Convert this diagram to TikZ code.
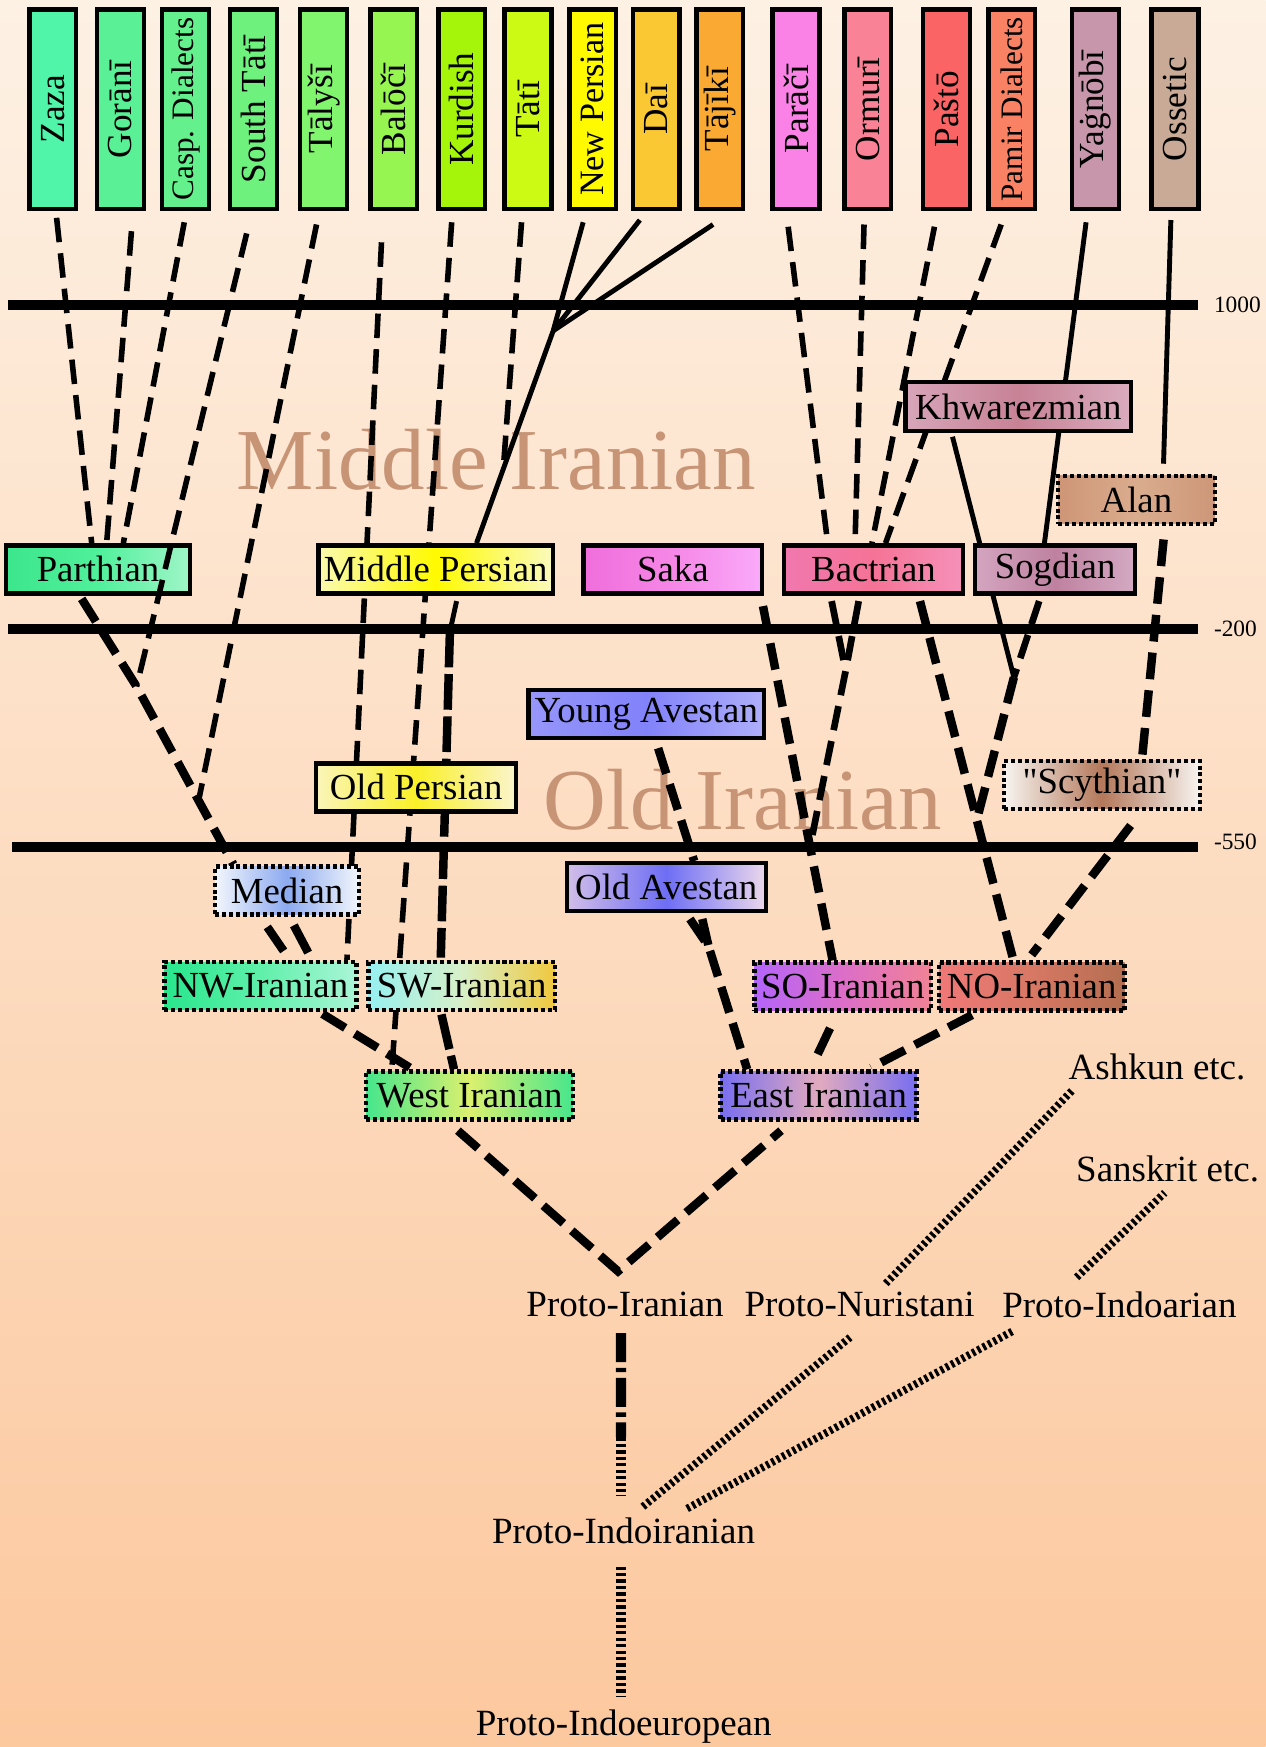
\documentclass[tikz,border=0pt]{standalone}
\usepackage{fontspec}
\setmainfont{Liberation Serif}
\usepackage{graphicx}
\usetikzlibrary{calc}
\pgfdeclarelayer{bg}
\pgfdeclarelayer{lines}
\pgfdeclarelayer{front}
\pgfsetlayers{bg,lines,main,front}
\newcommand\straightquote{\XeTeXglyph\numexpr\XeTeXcharglyph"22\relax\relax}

\definecolor{bgtop}{RGB}{253,241,228}
\definecolor{bgbot}{RGB}{252,200,158}
\definecolor{bigc}{RGB}{200,148,118}
% top boxes
\definecolor{cZaza}{RGB}{80,245,170}
\definecolor{cGor}{RGB}{90,240,150}
\definecolor{cCasp}{RGB}{100,240,140}
\definecolor{cSTati}{RGB}{110,242,125}
\definecolor{cTaly}{RGB}{130,245,110}
\definecolor{cBalo}{RGB}{150,245,80}
\definecolor{cKurd}{RGB}{165,245,10}
\definecolor{cTati}{RGB}{205,250,20}
\definecolor{cNPer}{RGB}{255,250,0}
\definecolor{cDari}{RGB}{250,200,50}
\definecolor{cTaji}{RGB}{250,170,50}
\definecolor{cPara}{RGB}{250,130,230}
\definecolor{cOrmu}{RGB}{250,130,150}
\definecolor{cPast}{RGB}{250,100,100}
\definecolor{cPami}{RGB}{250,130,100}
\definecolor{cYagn}{RGB}{200,150,170}
\definecolor{cOsse}{RGB}{200,170,150}
% middle boxes
\definecolor{paL}{RGB}{60,230,140}\definecolor{paM}{RGB}{80,240,155}\definecolor{paR}{RGB}{160,245,200}
\definecolor{mpL}{RGB}{250,250,175}\definecolor{mpM}{RGB}{255,250,0}\definecolor{mpR}{RGB}{250,250,190}
\definecolor{skL}{RGB}{240,110,220}\definecolor{skM}{RGB}{245,135,230}\definecolor{skR}{RGB}{250,170,250}
\definecolor{baL}{RGB}{240,120,175}\definecolor{baM}{RGB}{245,115,150}\definecolor{baR}{RGB}{245,145,185}
\definecolor{soL}{RGB}{212,165,192}\definecolor{soM}{RGB}{190,130,160}\definecolor{soR}{RGB}{212,170,195}
\definecolor{khL}{RGB}{215,165,185}\definecolor{khM}{RGB}{200,130,150}\definecolor{khR}{RGB}{218,172,190}
\definecolor{alL}{RGB}{205,150,118}\definecolor{alM}{RGB}{218,172,142}\definecolor{alR}{RGB}{205,150,120}
\definecolor{yaL}{RGB}{150,150,250}\definecolor{yaM}{RGB}{130,130,250}\definecolor{yaR}{RGB}{175,175,250}
\definecolor{opL}{RGB}{250,245,185}\definecolor{opM}{RGB}{250,240,40}\definecolor{opR}{RGB}{250,245,205}
\definecolor{scL}{RGB}{248,244,240}\definecolor{scM}{RGB}{180,120,90}\definecolor{scR}{RGB}{248,244,240}
\definecolor{meL}{RGB}{242,246,252}\definecolor{meM}{RGB}{140,170,240}\definecolor{meR}{RGB}{242,246,252}
\definecolor{oaL}{RGB}{210,190,232}\definecolor{oaM}{RGB}{110,110,245}\definecolor{oaR}{RGB}{235,215,235}
\definecolor{nwL}{RGB}{40,230,140}\definecolor{nwM}{RGB}{95,240,170}\definecolor{nwR}{RGB}{170,245,215}
\definecolor{swL}{RGB}{150,240,240}\definecolor{swM}{RGB}{215,240,200}\definecolor{swR}{RGB}{240,200,60}
\definecolor{sxL}{RGB}{180,100,250}\definecolor{sxM}{RGB}{220,110,200}\definecolor{sxR}{RGB}{240,130,150}
\definecolor{nxL}{RGB}{240,120,120}\definecolor{nxM}{RGB}{215,120,100}\definecolor{nxR}{RGB}{180,110,80}
\definecolor{wiL}{RGB}{70,230,140}\definecolor{wiM}{RGB}{220,240,110}\definecolor{wiR}{RGB}{70,230,140}
\definecolor{eiL}{RGB}{120,110,240}\definecolor{eiM}{RGB}{225,170,190}\definecolor{eiR}{RGB}{120,110,240}

\begin{document}
\begin{tikzpicture}[x=0.5pt,y=-0.5pt,
  topbox/.style={draw, line width=2pt, minimum width=21pt, minimum height=89.5pt,
    inner sep=0pt, fill=#1, font=\fontsize{15.8}{17}\selectfont},
  mbox/.style={draw, line width=2pt, minimum height=21.5pt, inner sep=0pt,
    font=\fontsize{16.5}{18}\selectfont},
  dbox/.style={mbox, dash pattern=on 1.8pt off 1.3pt},
  shd/.style n args={3}{left color=#1, right color=#3, middle color=#2},
  ptxt/.style={inner sep=0pt, font=\fontsize{16.6}{18}\selectfont},
  bigtxt/.style={inner sep=0pt, text=bigc, font=\fontsize{39}{40}\selectfont},
  tline/.style={line width=4.6pt},
  tlab/.style={anchor=west, inner sep=0pt, xshift=5pt, font=\fontsize{10.5}{12}\selectfont},
  dl/.style={line width=2.5pt, dash pattern=on 11pt off 5pt},
  dm/.style={line width=3pt, dash pattern=on 11pt off 5pt},
  dk/.style={line width=3.8pt, dash pattern=on 12pt off 5pt},
  dp/.style={line width=3.8pt, dash pattern=on 16pt off 3pt},
  sl/.style={line width=2.2pt},
  sk/.style={line width=3.8pt},
  lad/.style={line width=3.4pt, dash pattern=on 1.4pt off 1.3pt},
  ladv/.style={line width=4.6pt, dash pattern=on 1.5pt off 1.4pt},
  dv/.style={line width=4.6pt, dash pattern=on 13pt off 2.5pt on 2pt off 2.5pt}
]
\useasboundingbox (0,0) rectangle (1136,1568);

% junction points
\coordinate (V1) at (122.6,616.2);
\coordinate (V2) at (179,715);
\coordinate (J) at (496.5,296.9);
\coordinate (T1) at (451.6,422.6);
\coordinate (P1) at (403.8,567);
\coordinate (vpi) at (554.7,1141);
\coordinate (V6) at (759,602);
\coordinate (X) at (727,760);
\coordinate (V3) at (910,608);
\coordinate (V4) at (876.7,736);
\coordinate (V5) at (636,849.5);
\coordinate (mid) at (557.3,1290);

\begin{pgfonlayer}{bg}
  \shade[top color=bgtop, bottom color=bgbot] (0,0) rectangle (1136,1568);
  \node[bigtxt] (midir) at (445.5,413) {Middle Iranian};
  \node[bigtxt] (oldir) at (666.5,718) {Old Iranian};
  \draw[tline] (7.5,274) -- (1075,274) node[tlab] (t1000) {1000};
  \draw[tline] (7.5,564.5) -- (1075,564.5) node[tlab] (t200) {-200};
  \draw[tline] (11,760) -- (1075,760) node[tlab, yshift=2pt] (t550) {-550};
\end{pgfonlayer}

% top boxes
\node[topbox=cZaza]  (zaza)    at (47.3,98)  {\rotatebox{90}{Zaza}};
\node[topbox=cGor]   (goran)   at (108,98)   {\rotatebox{90}{Gorānī}};
\node[topbox=cCasp, font=\fontsize{14}{15}\selectfont] (casp) at (166.6,98) {\rotatebox{90}{Casp. Dialects}};
\node[topbox=cSTati] (stati)   at (227.4,98) {\rotatebox{90}{South Tātī}};
\node[topbox=cTaly]  (talysi)  at (290.5,98) {\rotatebox{90}{Tālyšī}};
\node[topbox=cBalo]  (baloci)  at (353.4,98) {\rotatebox{90}{Balōčī}};
\node[topbox=cKurd]  (kurd)    at (414.4,98) {\rotatebox{90}{Kurdish}};
\node[topbox=cTati]  (tati)    at (473.9,98) {\rotatebox{90}{Tātī}};
\node[topbox=cNPer, font=\fontsize{15.3}{16}\selectfont]  (npers) at (532,98) {\rotatebox{90}{New Persian}};
\node[topbox=cDari]  (dari)    at (589,98)   {\rotatebox{90}{Daī}};
\node[topbox=cTaji]  (tajiki)  at (646,98)   {\rotatebox{90}{Tājīkī}};
\node[topbox=cPara]  (paraci)  at (714.4,98) {\rotatebox{90}{Parāčī}};
\node[topbox=cOrmu]  (ormuri)  at (778.8,98) {\rotatebox{90}{Ormurī}};
\node[topbox=cPast]  (pasto)   at (849.5,98) {\rotatebox{90}{Paštō}};
\node[topbox=cPami, font=\fontsize{14}{15}\selectfont] (pamir) at (908,98) {\rotatebox{90}{Pamir Dialects}};
\node[topbox=cYagn]  (yagnobi) at (983.2,98) {\rotatebox{90}{Yaġnōbī}};
\node[topbox=cOsse]  (ossetic) at (1054.6,98) {\rotatebox{90}{Ossetic}};

% middle boxes
\node[mbox, minimum width=82.6pt, shd={paL}{paM}{paR}] (parthian) at (88,511) {Parthian};
\node[mbox, minimum width=105.3pt, shd={mpL}{mpM}{mpR}] (mpers) at (391,511) {Middle Persian};
\node[mbox, minimum width=80.1pt, shd={skL}{skM}{skR}] (saka) at (604,511) {Saka};
\node[mbox, minimum width=80.1pt, shd={baL}{baM}{baR}] (bactrian) at (784,511) {Bactrian};
\node[mbox, minimum width=71.7pt, shd={soL}{soM}{soR}] (sogdian) at (947,511) {Sogdian};
\node[mbox, minimum width=101.3pt, minimum height=22pt, shd={khL}{khM}{khR}] (khwar) at (914,365) {Khwarezmian};
\node[dbox, minimum width=70.3pt, shd={alL}{alM}{alR}] (alan) at (1020,448.7) {Alan};
\node[mbox, minimum width=105.8pt, shd={yaL}{yaM}{yaR}] (yav) at (580,641) {Young Avestan};
\node[mbox, minimum width=89.8pt, shd={opL}{opM}{opR}] (opers) at (373.5,706.7) {Old Persian};
\node[dbox, minimum width=87.8pt, shd={scL}{scM}{scR}] (scyth) at (989,704.4) {\straightquote Scythian\straightquote};
\node[dbox, minimum width=64.7pt, shd={meL}{meM}{meR}] (median) at (257.7,799.3) {Median};
\node[mbox, minimum width=89.3pt, shd={oaL}{oaM}{oaR}] (oav) at (598,796.3) {Old Avestan};
\node[dbox, minimum width=86.2pt, shd={nwL}{nwM}{nwR}] (nwir) at (233.7,885) {NW-Iranian};
\node[dbox, minimum width=83.8pt, shd={swL}{swM}{swR}] (swir) at (414.4,885) {SW-Iranian};
\node[dbox, minimum width=79.3pt, shd={sxL}{sxM}{sxR}] (soir) at (756.4,885.5) {SO-Iranian};
\node[dbox, minimum width=83.3pt, shd={nxL}{nxM}{nxR}] (noir) at (926,885.5) {NO-Iranian};
\node[dbox, minimum width=92.7pt, shd={wiL}{wiM}{wiR}] (wir) at (421.4,983.3) {West Iranian};
\node[dbox, minimum width=88pt, shd={eiL}{eiM}{eiR}] (eir) at (734.7,983.3) {East Iranian};

% plain labels
\node[ptxt] (ashkun)   at (1038.5,958) {Ashkun etc.};
\node[ptxt] (sanskrit) at (1048,1049) {Sanskrit etc.};
\node[ptxt] (piran)    at (561,1171) {Proto-Iranian};
\node[ptxt] (pnur)     at (771.5,1171) {Proto-Nuristani};
\node[ptxt] (pia)      at (1004.7,1171) {Proto-Indoarian};
\node[ptxt] (pii)      at (559.7,1373.7) {Proto-Indoiranian};
\node[ptxt] (pie)      at (559.8,1549.5) {Proto-Indoeuropean};

\begin{pgfonlayer}{lines}
  % western group
  \draw[dl] ($(zaza.south)+(3.5,6)$) -- ($(parthian.north)+(-5.7,0)$);
  \draw[dl] ($(goran.south)+(10,18)$) -- ($(parthian.north)+(7.7,0)$);
  \draw[dl] ($(casp.south)+(-1.2,10)$) -- ($(parthian.north)+(22.7,0)$);
  \draw[dl] ($(talysi.south)+(-6.4,12)$) -- (V2);
  \draw[dk] ($(parthian.south)+(-14.7,3)$) -- (V1) -- ($(median.north)+(-48.3,0)$);
  \draw[sk] ($(median.south)+(-17.8,9.2)$) -- ($(nwir.north)+(20.9,-8)$);
  \draw[sk] ($(median.south)+(6,7.7)$) -- ($(nwir.north)+(42.9,-6.5)$);
  \draw[dl] ($(baloci.south)+(-11,28)$) -- ($(nwir.north)+(77.7,0)$);
  \draw[dl] ($(kurd.south)+(-9,10)$) -- ($(wir.north)+(-69.7,0)$);
  \draw[dk] ($(nwir.south)+(55.7,1.5)$) -- ($(wir.north)+(-51,0)$);
  \draw[dl] ($(tati.south)+(-5.8,10)$) -- (T1);
  \draw[sl] ($(npers.south)+(-8.6,10)$) -- (J) -- ($(mpers.north)+(36.7,0)$);
  \draw[sl] ($(dari.south)+(-14.7,8)$) -- (J);
  \draw[sl] ($(tajiki.south)+(-6,12)$) -- (J);
  \draw[sl] ($(mpers.south)+(18.8,5)$) -- (P1);
  \draw[dp] (P1) -- ($(swir.north)+(-18.8,-2)$);
  \draw[dp] ($(swir.south)+(-18.2,2)$) -- ($(wir.north)+(-13.9,0)$);
  \draw[dk] ($(wir.south)+(-10.4,8)$) -- (vpi) -- ($(eir.south)+(-33.7,8)$);
  % eastern group
  \draw[dl] ($(paraci.south)+(-7,14)$) -- ($(bactrian.north)+(-41.1,0)$);
  \draw[dl] ($(ormuri.south)+(-3.3,12)$) -- ($(bactrian.north)+(-16.6,0)$);
  \draw[dl] ($(pasto.south)+(-10.8,14)$) -- ($(bactrian.north)+(-1.4,0)$);
  \draw[dl] ($(pamir.south)+(-9.4,12)$) -- ($(bactrian.north)+(10.8,0)$);
  \draw[dm] ($(bactrian.south)+(-37.6,5)$) -- (V6);
  \draw[dm] ($(bactrian.south)+(-13.3,5)$) -- (V6) -- (X);
  \draw[dk] ($(saka.south)+(80.8,9.5)$) -- (X) -- ($(soir.north)+(-9.1,0)$);
  \draw[dk] ($(bactrian.south)+(41.7,5)$) -- (V4) -- ($(noir.north)+(-16.4,0)$);
  \draw[sl] ($(khwar.south)+(-59.1,3)$) -- (V3);
  \draw[dm] ($(sogdian.south)+(-14.3,5)$) -- (V3);
  \draw[dk] (V3) -- (V4);
  \draw[sl] ($(yagnobi.south)+(-8.4,10)$) -- ($(sogdian.north)+(-9.6,0)$);
  \draw[sl] ($(ossetic.south)+(-3.7,8)$) -- ($(alan.north)+(24.3,-9)$);
  \draw[dk] ($(alan.south)+(24.4,12)$) -- ($(scyth.north)+(36,0)$);
  \draw[dk] ($(scyth.south)+(25.8,13)$) -- ($(noir.north)+(0,-5)$);
  \draw[dk] ($(yav.south)+(10.7,7)$) -- ($(oav.north)+(25,0)$);
  \draw[dk] ($(oav.south)+(21.2,5)$) -- (V5) -- ($(eir.north)+(-64.1,0)$);
  \draw[dk] ($(oav.south)+(32.3,5)$) -- (V5);
  \draw[sk] ($(soir.south)+(-11.4,13.8)$) -- ($(eir.north)+(-0.8,-13.6)$);
  \draw[dk] ($(noir.south)+(-53.5,2)$) -- ($(eir.north)+(47.2,-1.6)$);
  % proto languages
  \draw[dv] ($(piran.center)+(-3.7,25.6)$) -- (mid);
  \draw[ladv] (mid) -- ($(pii.center)+(-2.4,-30.7)$);
  \draw[ladv] ($(pii.center)+(-2.4,32.3)$) -- ($(pie.center)+(-2.5,-26.5)$);
  \draw[lad] ($(pii.center)+(17.3,-21.4)$) -- ($(pnur.center)+(-8.5,29.3)$);
  \draw[lad] ($(pii.center)+(57,-19.7)$) -- ($(pia.center)+(-95.7,23.7)$);
  \draw[lad] ($(pnur.center)+(23.5,-19)$) -- ($(ashkun.center)+(-75.5,20)$);
  \draw[lad] ($(pia.center)+(-38.4,-24.5)$) -- ($(sanskrit.center)+(-2.6,21.5)$);
\end{pgfonlayer}

\begin{pgfonlayer}{front}
  \draw[dl] ($(stati.south)+(-6,20)$) -- (V1);
\end{pgfonlayer}
\end{tikzpicture}
\end{document}
